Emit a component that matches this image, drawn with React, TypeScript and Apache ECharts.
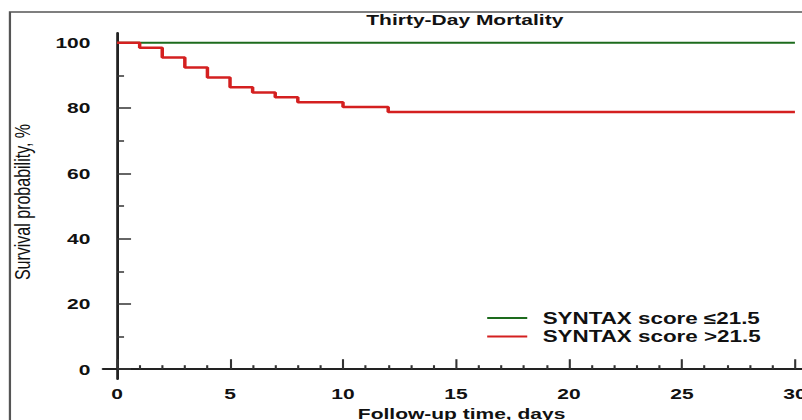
import React, { useEffect, useRef } from "react";
import * as echarts from "echarts";

// ---- data ----
const lowLabel = "SYNTAX score ≤21.5";
const highLabel = "SYNTAX score >21.5";
const lowTimes = [0, 30];
const lowSurvival = [100, 100];
const highTimes = [0, 1, 2, 3, 4, 5, 6, 7, 8, 10, 12, 30];
const highSurvival = [100, 98.5, 95.5, 92.4, 89.4, 86.4, 84.8, 83.3, 81.8, 80.3, 78.8, 78.8];
const xTickLabels = [0, 5, 10, 15, 20, 25, 30];
const xMinorTicks = [1, 2, 3, 4, 6, 7, 8, 9, 11, 12, 13, 14, 16, 17, 18, 19, 21, 22, 23, 24, 26, 27, 28, 29];
const yTickLabels = [0, 20, 40, 60, 80, 100];
const yMinorTicks = [10, 30, 50, 70, 90];
const titleText = "Thirty-Day Mortality";
const xName = "Follow-up time, days";
const yName = "Survival probability, %";

// The reference is horizontally stretched; render narrower and scale.
const S = 1.4;
const W = 802 / S;
const FONT = "'Liberation Sans', Arial, sans-serif";

export default function App() {
  const ref = useRef<HTMLDivElement>(null);
  useEffect(() => {
    if (!ref.current) return;
    const chart = echarts.init(ref.current, undefined, { renderer: "svg" });
    const xMin = -0.62;
    const xMax = 30.62;
    const gridLeft = 73.6;
    const gridWidth = (xMax - xMin) * 16.14;
    const axisColor = "#222";
    const tickStyle = { color: "#333", width: 1.5 };
    const option: any = {
      animation: false,
      backgroundColor: "#fff",
      grid: {
        left: gridLeft,
        top: 33,
        width: gridWidth,
        height: 346,
        containLabel: false,
        outerBoundsMode: "none",
      },
      xAxis: [
        {
          type: "value",
          min: xMin,
          max: xMax,
          position: "bottom",
          axisLine: { show: true, lineStyle: { color: axisColor, width: 2 } },
          axisTick: { show: true, inside: true, length: 10, lineStyle: tickStyle, customValues: xTickLabels },
          axisLabel: {
            show: true,
            customValues: xTickLabels,
            margin: 7,
            fontFamily: FONT,
            fontWeight: "bold",
            fontSize: 15,
            color: "#111",
          },
          splitLine: { show: false },
          name: xName,
          nameLocation: "middle",
          nameGap: 26,
          nameTextStyle: {
            fontFamily: FONT,
            fontWeight: "bold",
            fontSize: 15,
            color: "#111",
            padding: [0, 0, 0, 8],
          },
        },
        {
          type: "value",
          min: xMin,
          max: xMax,
          position: "bottom",
          axisLine: { show: false },
          axisTick: { show: true, inside: true, length: 4, lineStyle: tickStyle, customValues: xMinorTicks },
          axisLabel: { show: false },
          splitLine: { show: false },
        },
      ],
      yAxis: [
        {
          type: "value",
          min: -3,
          max: 103,
          position: "left",
          axisLine: { show: true, lineStyle: { color: axisColor, width: 2 } },
          axisTick: { show: true, inside: true, length: 10, lineStyle: tickStyle, customValues: yTickLabels },
          axisLabel: {
            show: true,
            customValues: yTickLabels,
            margin: 9,
            fontFamily: FONT,
            fontWeight: "bold",
            fontSize: 15,
            color: "#111",
          },
          splitLine: { show: false },
          name: yName,
          nameLocation: "middle",
          nameRotate: 90,
          nameGap: 50,
          nameTextStyle: { fontFamily: FONT, fontSize: 16, color: "#111", padding: [0, 0, 0, 8] },
        },
        {
          type: "value",
          min: -3,
          max: 103,
          position: "left",
          axisLine: { show: false },
          axisTick: { show: true, inside: true, length: 5, lineStyle: tickStyle, customValues: yMinorTicks },
          axisLabel: { show: false },
          splitLine: { show: false },
        },
      ],
      legend: {
        orient: "vertical",
        left: 348,
        top: 310,
        padding: 0,
        itemGap: 2.5,
        itemWidth: 28.6,
        itemHeight: 2,
        icon: "rect",
        data: [
          { name: lowLabel, icon: "rect" },
          { name: highLabel, icon: "rect" },
        ],
        textStyle: {
          fontFamily: FONT,
          fontWeight: "bold",
          fontSize: 16,
          color: "#111",
          padding: [0, 0, 0, 6],
        },
      },
      graphic: [
        {
          type: "rect",
          z: -1,
          shape: { x: 7.1, y: 12, width: 700, height: 500 },
          style: { fill: "none", stroke: "#555", lineWidth: 1.6 },
        },
        {
          type: "text",
          x: 332,
          y: 12,
          style: {
            text: titleText,
            font: "bold 15px " + FONT,
            fill: "#111",
            align: "center",
            textAlign: "center",
            verticalAlign: "top",
            textVerticalAlign: "top",
          },
        },
      ],
      series: [
        {
          name: lowLabel,
          type: "line",
          xAxisIndex: 0,
          yAxisIndex: 0,
          step: "end",
          symbol: "none",
          lineStyle: { color: "#1d6b1d", width: 2 },
          itemStyle: { color: "#1d6b1d" },
          data: lowTimes.map((t, i) => [t, lowSurvival[i]]),
        },
        {
          name: highLabel,
          type: "line",
          xAxisIndex: 0,
          yAxisIndex: 0,
          step: "end",
          symbol: "none",
          lineStyle: { color: "#d42020", width: 2.5 },
          itemStyle: { color: "#d42020" },
          data: highTimes.map((t, i) => [t, highSurvival[i]]),
        },
      ],
    };
    chart.setOption(option);
    return () => chart.dispose();
  }, []);
  return (
    <div
      ref={ref}
      style={{
        position: "fixed",
        left: 0,
        top: 0,
        width: W,
        height: 420,
        transform: `scaleX(${S})`,
        transformOrigin: "0 0",
      }}
    />
  );
}
